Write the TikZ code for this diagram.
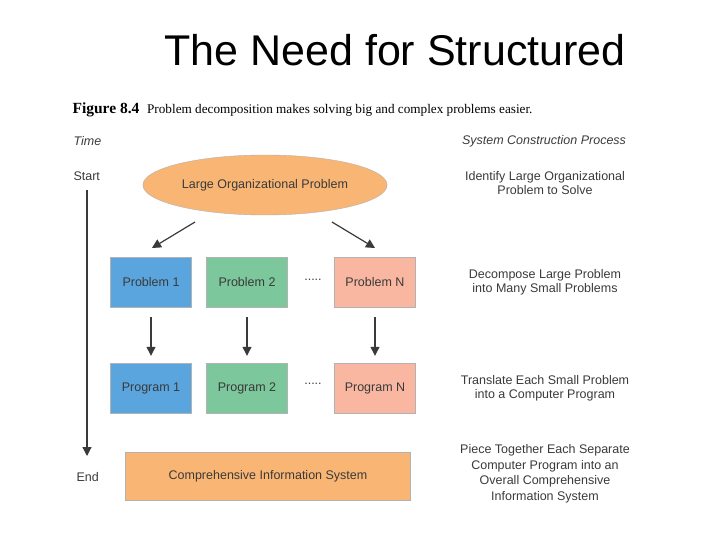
\documentclass[tikz,border=0pt]{standalone}
\usepackage{fontspec}
\setmainfont{Liberation Serif}
\setsansfont{Liberation Sans}
\usetikzlibrary{shapes.geometric,arrows.meta}
\definecolor{orng}{HTML}{F9B574}
\definecolor{blu}{HTML}{5AA5DE}
\definecolor{grn}{HTML}{7CC79B}
\definecolor{pnk}{HTML}{F9B7A2}
\definecolor{txt}{HTML}{3A3A3A}
\begin{document}
\begin{tikzpicture}[x=1pt,y=-1pt,
  lbl/.style={font=\sffamily\fontsize{12.5}{14}\selectfont,text=txt},
  boxs/.style={draw=gray!60,minimum width=81,minimum height=50,inner sep=0,lbl},
  side/.style={lbl,align=center},
  arr/.style={-{Triangle[length=9,width=9]},line width=1.2pt,draw=txt}]
\useasboundingbox (0,0) rectangle (720,540);
\node[font=\sffamily\fontsize{43}{48}\selectfont] (title) at (395,50) {The Need for Structured};
\node[anchor=west,font=\fontsize{15.5}{18}\selectfont] (cap) at (69,110) {\textbf{Figure 8.4}\ \ {\fontsize{13.2}{15}\selectfont Problem decomposition makes solving big and complex problems easier.}};
\node[lbl,anchor=west,font=\sffamily\itshape\fontsize{12.5}{14}\selectfont] (time) at (70,141) {Time};
\node[lbl,anchor=west] (start) at (70,176) {Start};
\node[lbl,anchor=west] (end) at (73,477) {End};
\coordinate (t1) at (87,190);
\coordinate (t2) at (87,456);
\draw[arr] (t1) -- (t2);
\node[ellipse,draw=gray!60,fill=orng,minimum width=240,minimum height=60,lbl] (big) at (265,185) {Large Organizational Problem};
\node[boxs,fill=blu] (p1) at (151,282) {Problem 1};
\node[boxs,fill=grn] (p2) at (247,282) {Problem 2};
\node[boxs,fill=pnk] (pn) at (375,282) {Problem N};
\node[boxs,fill=blu] (g1) at (151,388) {Program 1};
\node[boxs,fill=grn] (g2) at (247,388) {Program 2};
\node[boxs,fill=pnk] (gn) at (375,388) {Program N};
\node[lbl] (d1) at (313,280) {.....};
\node[lbl] (d2) at (313,384) {.....};
\node[draw=gray!60,fill=orng,minimum width=285,minimum height=48,lbl] (cis) at (268,476) {Comprehensive Information System};
\coordinate (a1) at (195,222); \coordinate (a2) at (152,248);
\coordinate (b1) at (332,222); \coordinate (b2) at (375,248);
\draw[arr] (a1) -- (a2);
\draw[arr] (b1) -- (b2);
\draw[arr] ([yshift=-10]p1.south) -- ([yshift=7]g1.north);
\draw[arr] ([yshift=-10]p2.south) -- ([yshift=7]g2.north);
\draw[arr] ([yshift=-10]pn.south) -- ([yshift=7]gn.north);
\node[lbl,font=\sffamily\itshape\fontsize{12.5}{14}\selectfont] (scp) at (544,141) {System Construction Process};
\node[side] (s1) at (545,183) {Identify Large Organizational\\Problem to Solve};
\node[side] (s2) at (545,282) {Decompose Large Problem\\into Many Small Problems};
\node[side] (s3) at (545,388) {Translate Each Small Problem\\into a Computer Program};
\node[side,font=\sffamily\fontsize{12.5}{15.5}\selectfont] (s4) at (545,474) {Piece Together Each Separate\\Computer Program into an\\Overall Comprehensive\\Information System};
\end{tikzpicture}
\end{document}
